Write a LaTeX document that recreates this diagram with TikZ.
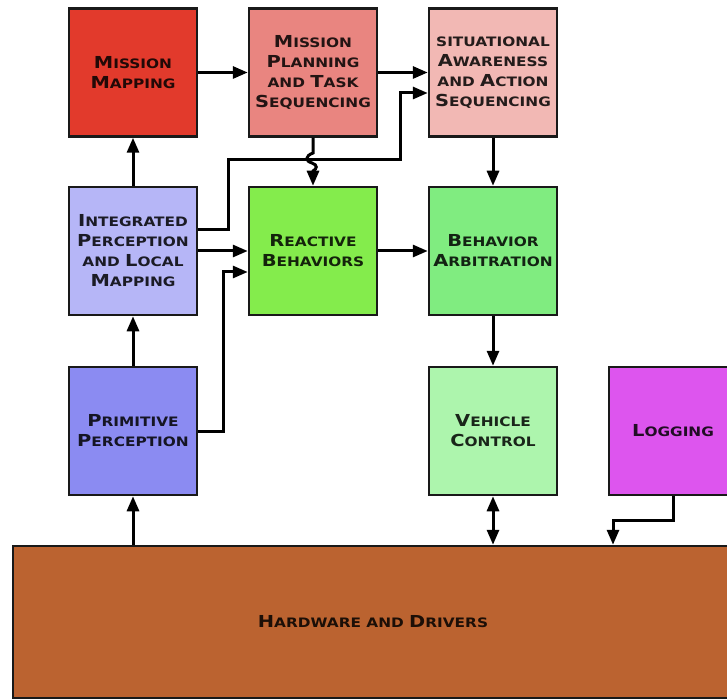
\documentclass[tikz,border=0pt]{standalone}
\usepackage{fontspec}
\usetikzlibrary{arrows.meta}
\newfontfamily\boxfont{DejaVu Sans}[FakeStretch=1.18]
\newcommand\Bg[1]{{\fontsize{16.5}{20}\selectfont #1}}
\definecolor{cMM}{HTML}{E23A2C}
\definecolor{cMP}{HTML}{E98580}
\definecolor{cSA}{HTML}{F2B8B4}
\definecolor{cIP}{HTML}{B6B6F7}
\definecolor{cPP}{HTML}{8B8BF2}
\definecolor{cRB}{HTML}{84EC4C}
\definecolor{cBA}{HTML}{80EC80}
\definecolor{cVC}{HTML}{ADF5AD}
\definecolor{cLG}{HTML}{DD55EE}
\definecolor{cHW}{HTML}{BB6330}
\tikzset{
  blockbox/.style={draw=black!90, line width=2.5pt, fill=#1, text=#1!15!black,
    minimum width=128pt, minimum height=128pt, align=center, inner sep=0pt,
    font=\boxfont\bfseries\fontsize{13}{20}\selectfont},
  arr/.style={line width=3pt, draw=black, -{Triangle[length=15pt,width=12pt]}},
  darr/.style={line width=3pt, draw=black, {Triangle[length=15pt,width=12pt]}-{Triangle[length=15pt,width=12pt]}}
}
\begin{document}
\begin{tikzpicture}[x=1pt,y=-1pt]
\useasboundingbox (0,0) rectangle (727,700);
\clip (0,0) rectangle (727,700);
\fill[white] (0,0) rectangle (727,700);

\node[blockbox=cMM] (MM) at (133,72.5) {\Bg{M}ISSION\\\Bg{M}APPING};
\node[blockbox=cMP] (MP) at (313,72.5) {\Bg{M}ISSION\\\Bg{P}LANNING\\AND \Bg{T}ASK\\\Bg{S}EQUENCING};
\node[blockbox=cSA] (SA) at (493,72.5) {SITUATIONAL\\\Bg{A}WARENESS\\AND \Bg{A}CTION\\\Bg{S}EQUENCING};
\node[blockbox=cIP] (IP) at (133,251) {\Bg{I}NTEGRATED\\\Bg{P}ERCEPTION\\AND \Bg{L}OCAL\\\Bg{M}APPING};
\node[blockbox=cRB] (RB) at (313,251) {\Bg{R}EACTIVE\\\Bg{B}EHAVIORS};
\node[blockbox=cBA] (BA) at (493,251) {\Bg{B}EHAVIOR\\\Bg{A}RBITRATION};
\node[blockbox=cPP] (PP) at (133,431) {\Bg{P}RIMITIVE\\\Bg{P}ERCEPTION};
\node[blockbox=cVC] (VC) at (493,431) {\Bg{V}EHICLE\\\Bg{C}ONTROL};
\node[blockbox=cLG] (LG) at (673,431) {\Bg{L}OGGING};
\node[blockbox=cHW, minimum width=720pt, minimum height=152pt] (HW) at (373,622) {\Bg{H}ARDWARE AND \Bg{D}RIVERS};

\coordinate (ipturn) at (228,160);
\coordinate (saturn) at (400,93);
\coordinate (ppturn) at (223,272);
\coordinate (lgturn) at (613,520);

\draw[arr] (MM.east) -- (MP.west);
\draw[arr] (MP.east) -- (SA.west);
\draw[arr] (IP.north) -- (MM.south);
\draw[arr] (PP.north) -- (IP.south);
\draw[arr] (PP.south |- HW.north) -- (PP.south);
\draw[arr] ([yshift=21pt]IP.east) -| (ipturn) -| (saturn) -- (SA.west |- saturn);
\draw[arr] (MP.south) -- (313,153) .. controls (305,156) and (305,161) .. (312,163)
  .. controls (318,165) and (317,169) .. (313,171) -- (RB.north);
\draw[arr] (IP.east) -- (RB.west);
\draw[arr] (PP.east) -| (ppturn) -- (RB.west |- ppturn);
\draw[arr] (RB.east) -- (BA.west);
\draw[arr] (SA.south) -- (BA.north);
\draw[arr] (BA.south) -- (VC.north);
\draw[darr] (VC.south) -- (VC.south |- HW.north);
\draw[arr] (LG.south) |- (lgturn) -- (lgturn |- HW.north);
\end{tikzpicture}
\end{document}
